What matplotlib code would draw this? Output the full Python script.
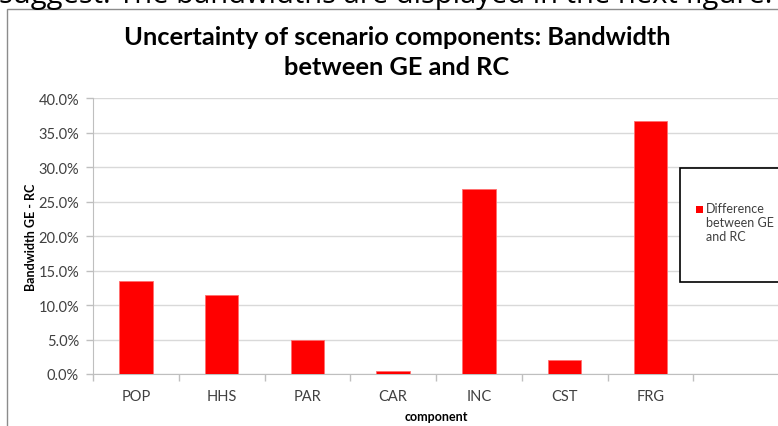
import matplotlib
matplotlib.use("Agg")
import matplotlib.pyplot as plt
from matplotlib.patches import Rectangle
from matplotlib.ticker import FuncFormatter, FixedLocator

categories = ["POP", "HHS", "PAR", "CAR", "INC", "CST", "FRG"]
values = [13.5, 11.4, 5.0, 0.5, 26.8, 2.0, 36.7]
yticks = [0, 5, 10, 15, 20, 25, 30, 35, 40]

W, H = 778, 427
fig = plt.figure(figsize=(W / 100, H / 100), dpi=100)
plt.rcParams['font.family'] = ['Lato', 'DejaVu Sans']

def fx(px):
    return px / W

def fy(py):
    return 1 - py / H

# cropped body text at top
fig.text(fx(-1), fy(2.5), "suggest. The bandwidths are displayed in the next figure.",
         fontsize=21, color="#000000", va="baseline", ha="left", family=['Open Sans', 'DejaVu Sans'])

# outer chart frame
fig.patches.append(Rectangle((fx(7), fy(440)), fx(800), fy(9.5) - fy(440),
                             transform=fig.transFigure, fill=False,
                             edgecolor="#8c8c8c", linewidth=1.0, zorder=-1))

ax = fig.add_axes([fx(93), fy(375), fx(779) - fx(93), fy(99.3) - fy(375)])
ax.patch.set_alpha(0)
x = list(range(len(categories)))
ax.bar(x, values, width=0.39, color="#ff0000", edgecolor="#ff6f6f", linewidth=0.6, zorder=3)

ax.set_xlim(-0.5, 7.5)
ax.set_ylim(0, 40)
ax.set_yticks(yticks)
ax.yaxis.set_major_formatter(FuncFormatter(lambda v, p: f"{v:.1f}%"))
ax.grid(axis="y", color="#d9d9d9", linewidth=1.0, zorder=0)

ax.xaxis.set_major_locator(FixedLocator([i - 0.5 for i in range(len(categories) + 2)]))
ax.xaxis.set_minor_locator(FixedLocator(x))
ax.set_xticklabels([], minor=False)
ax.set_xticklabels(categories, minor=True)
ax.tick_params(axis="x", which="major", length=5, color="#bfbfbf", width=1)
ax.tick_params(axis="x", which="minor", length=0, pad=11, labelsize=10.5, labelcolor="#404040")
ax.tick_params(axis="y", length=5, color="#bfbfbf", width=1, labelsize=10.5, labelcolor="#404040", pad=5)

for s in ["top", "right"]:
    ax.spines[s].set_visible(False)
for s in ["left", "bottom"]:
    ax.spines[s].set_color("#bfbfbf")

ax.set_xlabel("component", fontsize=9, fontweight="bold", labelpad=5)
ax.set_ylabel("Bandwidth GE - RC", fontsize=9, fontweight="bold", labelpad=1)

fig.text(fx(397), fy(45), "Uncertainty of scenario components: Bandwidth",
         fontsize=18.3, fontweight="bold", ha="center", va="baseline")
fig.text(fx(397), fy(75), "between GE and RC",
         fontsize=18.3, fontweight="bold", ha="center", va="baseline")

# legend box
fig.patches.append(Rectangle((fx(680), fy(283)), fx(120), fy(169) - fy(283),
                             transform=fig.transFigure, facecolor="white",
                             edgecolor="#000000", linewidth=1.2, zorder=5))
fig.patches.append(Rectangle((fx(696), fy(213.5)), fx(6.5), fy(207) - fy(213.5),
                             transform=fig.transFigure, facecolor="#ff0000",
                             edgecolor="none", zorder=6))
fig.text(fx(706), fy(203), "Difference\nbetween GE\nand RC", fontsize=9, va="top",
         ha="left", color="#404040", linespacing=1.2, zorder=7)

fig.savefig("out.png", dpi=100)
